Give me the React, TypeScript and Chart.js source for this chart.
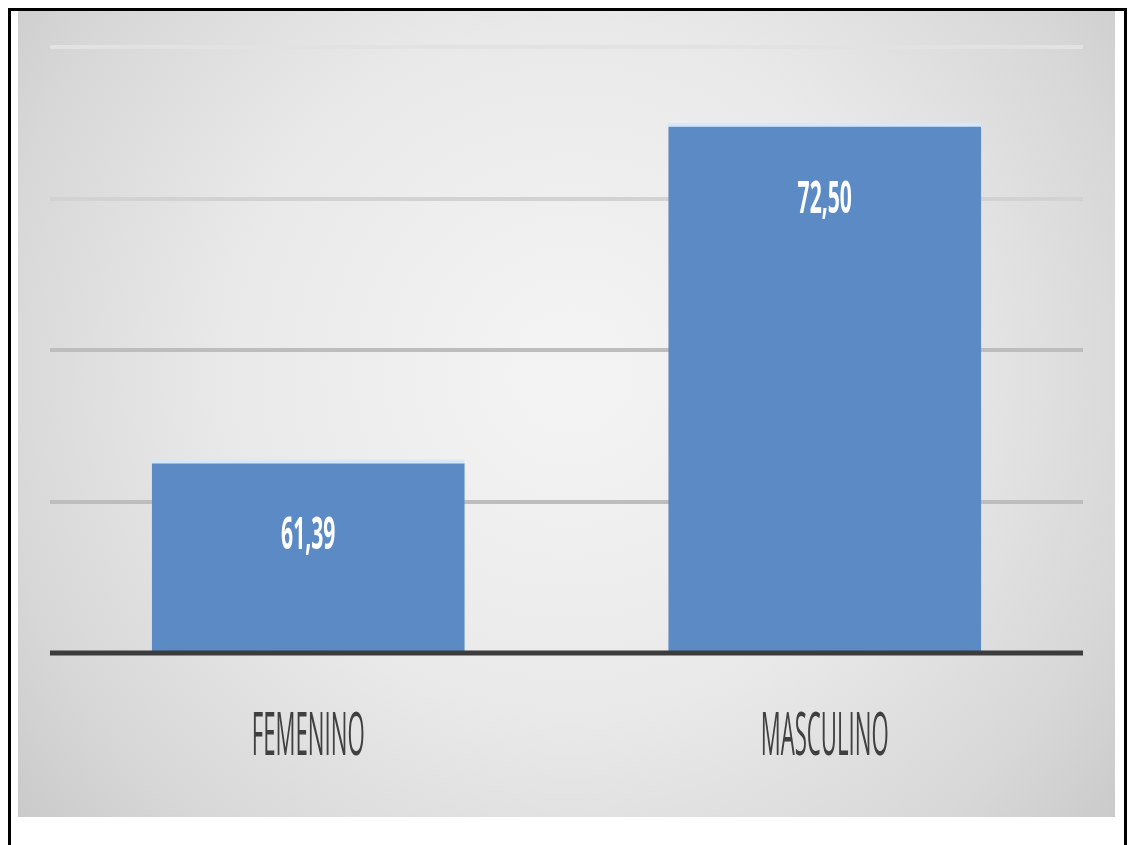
import React, { useEffect, useRef } from "react";
import { Chart, registerables } from "chart.js";

Chart.register(...registerables);

const categories: string[] = ["FEMENINO", "MASCULINO"];
const values: number[] = [61.39, 72.5];
const yMin = 55;
const yMax = 75;
const yStep = 5;

const W = 1113;
const H = 840;

function drawCondensed(
  ctx: CanvasRenderingContext2D,
  text: string,
  x: number,
  y: number,
  font: string,
  color: string,
  sx: number
) {
  ctx.save();
  ctx.translate(x, y);
  ctx.scale(sx, 1);
  ctx.font = font;
  ctx.fillStyle = color;
  ctx.textAlign = "center";
  ctx.textBaseline = "middle";
  ctx.fillText(text, 0, 0);
  ctx.restore();
}

const panelPlugin = {
  id: "panel",
  beforeDraw(chart: any) {
    const ctx: CanvasRenderingContext2D = chart.ctx;
    const px = 7, py = 0, pw = 1097, ph = 806;
    ctx.save();
    const g = ctx.createRadialGradient(560, 360, 40, 560, 360, 720);
    g.addColorStop(0, "#f3f3f3");
    g.addColorStop(0.45, "#e9e9e9");
    g.addColorStop(0.8, "#d7d7d7");
    g.addColorStop(1, "#c9c9c9");
    ctx.fillStyle = g;
    ctx.fillRect(px, py, pw, ph);
    ctx.restore();
  },
  afterDatasetsDraw(chart: any) {
    const ctx: CanvasRenderingContext2D = chart.ctx;
    const yScale = chart.scales.y;
    const xScale = chart.scales.x;
    const area = chart.chartArea;
    const yb = yScale.getPixelForValue(yMin);
    ctx.save();
    ctx.strokeStyle = "#3c3c3c";
    ctx.lineWidth = 5;
    ctx.beginPath();
    ctx.moveTo(area.left, yb);
    ctx.lineTo(area.right, yb);
    ctx.stroke();
    ctx.restore();

    const meta = chart.getDatasetMeta(0);
    meta.data.forEach((bar: any, i: number) => {
      const txt = values[i].toFixed(2).replace(".", ",");
      drawCondensed(ctx, txt, bar.x, bar.y + 77, "bold 45px 'Open Sans', sans-serif", "#ffffff", 0.47);
    });

    categories.forEach((c, i) => {
      const x = xScale.getPixelForTick(i);
      drawCondensed(ctx, c, x, area.bottom + 85, "60px 'Open Sans', sans-serif", "#404040", 0.37);
    });
  },
};

export default function App() {
  const ref = useRef<HTMLCanvasElement>(null);
  useEffect(() => {
    if (!ref.current) return;
    const chart = new Chart(ref.current, {
      type: "bar",
      data: {
        labels: categories,
        datasets: [
          {
            data: values,
            backgroundColor: "#5c8ac4",
            borderColor: "#d6e7f6",
            borderWidth: { top: 4, left: 0, right: 0, bottom: 0 },
            borderSkipped: "start",
            barPercentage: 0.606,
            categoryPercentage: 1,
          },
        ],
      },
      options: {
        responsive: false,
        animation: false,
        layout: { padding: { left: 39, right: 41, top: 36, bottom: H - 650 } },
        plugins: { legend: { display: false }, tooltip: { enabled: false } },
        scales: {
          x: {
            grid: { display: false },
            border: { display: false },
            ticks: { display: false },
          },
          y: {
            min: yMin,
            max: yMax,
            ticks: { display: false, stepSize: yStep },
            border: { display: false },
            grid: {
              lineWidth: 4,
              drawTicks: false,
              color: (c: any) => {
                const v = c.tick ? c.tick.value : 0;
                if (v === yMax) return "#e2e2e2";
                if (v === 70) return "#d2d2d2";
                return "#bdbdbd";
              },
            },
          },
        },
      },
      plugins: [panelPlugin],
    });
    return () => chart.destroy();
  }, []);
  return (
    <div
      style={{
        position: "absolute",
        left: 8,
        top: 8,
        width: 1119,
        height: 860,
        border: "3px solid #000",
        boxSizing: "border-box",
        background: "#fff",
        overflow: "hidden",
      }}
    >
      <canvas ref={ref} width={W} height={H} style={{ display: "block", width: W, height: H }} />
    </div>
  );
}
